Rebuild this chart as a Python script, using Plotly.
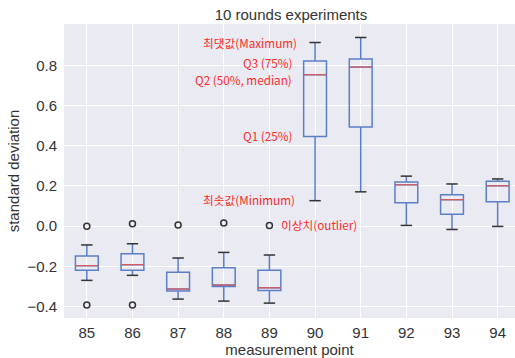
import plotly.graph_objects as go

points = ["85", "86", "87", "88", "89", "90", "91", "92", "93", "94"]
positions = [1, 2, 3, 4, 5, 6, 7, 8, 9, 10]
upper_whisker = [-0.093, -0.087, -0.158, -0.130, -0.143, 0.913, 0.938, 0.249, 0.210, 0.235]
q3 = [-0.148, -0.137, -0.229, -0.206, -0.219, 0.821, 0.831, 0.220, 0.157, 0.223]
median = [-0.196, -0.191, -0.312, -0.292, -0.306, 0.753, 0.791, 0.206, 0.132, 0.201]
q1 = [-0.219, -0.219, -0.322, -0.299, -0.319, 0.446, 0.493, 0.117, 0.059, 0.122]
lower_whisker = [-0.269, -0.244, -0.362, -0.372, -0.382, 0.127, 0.171, 0.004, -0.016, -0.001]
outlier_pos = [1, 1, 2, 2, 3, 4, 5]
outlier_val = [0.0, -0.392, 0.012, -0.392, 0.006, 0.016, 0.004]

labels = ["최댓값(Maximum)", "Q3 (75%)", "Q2 (50%, median)", "Q1 (25%)", "최솟값(Minimum)"]
label_x = [5.64, 5.54, 5.54, 5.54, 5.61]
label_y = [0.913, 0.816, 0.728, 0.45, 0.135]
outlier_label = "이상치(outlier)"

BOX_W = 0.5
CAP_W = 0.25
BLUE = "#5B7FC7"
RED = "#E05A5A"

fig = go.Figure()
fig.add_trace(go.Box(
    x=positions, q1=q1, median=median, q3=q3,
    lowerfence=lower_whisker, upperfence=upper_whisker,
    width=BOX_W, whiskerwidth=0,
    fillcolor="rgba(0,0,0,0)", line=dict(color=BLUE, width=1.5),
    boxpoints=False, hoverinfo="skip", showlegend=False,
))

# medians in red
mx, my = [], []
for p, m in zip(positions, median):
    mx += [p - BOX_W / 2, p + BOX_W / 2, None]
    my += [m, m, None]
fig.add_trace(go.Scatter(x=mx, y=my, mode="lines", line=dict(color=RED, width=1.2),
                         showlegend=False, hoverinfo="skip"))

# caps in dark
cx, cy = [], []
for p, lo, hi in zip(positions, lower_whisker, upper_whisker):
    cx += [p - CAP_W / 2, p + CAP_W / 2, None, p - CAP_W / 2, p + CAP_W / 2, None]
    cy += [lo, lo, None, hi, hi, None]
fig.add_trace(go.Scatter(x=cx, y=cy, mode="lines", line=dict(color="#333333", width=1.5),
                         showlegend=False, hoverinfo="skip"))

fig.add_trace(go.Scatter(x=outlier_pos, y=outlier_val, mode="markers",
                         marker=dict(symbol="circle-open", size=6, color="#333333",
                                     line=dict(width=1.5, color="#333333")),
                         showlegend=False, hoverinfo="skip"))

ann_font = dict(family="Noto Sans CJK KR", size=11.7, color="#FF2A2A")
for t, x, y in zip(labels, label_x, label_y):
    fig.add_annotation(x=x, y=y, text=t, showarrow=False, xanchor="right", yanchor="middle",
                       font=ann_font)
fig.add_annotation(x=5.2, y=0.007, text=outlier_label, showarrow=False, xanchor="left",
                   yanchor="middle", font=ann_font)

fig.update_layout(
    width=515, height=358,
    margin=dict(l=64, r=0, t=24, b=40),
    paper_bgcolor="white", plot_bgcolor="#EAEAF2",
    font=dict(family="Liberation Sans, Arial", size=15, color="#333333"),
    title=dict(text="10 rounds experiments", x=0.565, xanchor="center", y=0.96, yanchor="middle",
               font=dict(size=15, color="#333333")),
    xaxis=dict(range=[0.5, 10.38], tickvals=positions, ticktext=points,
               showgrid=True, gridcolor="white", gridwidth=1, zeroline=False,
               showline=False, ticks="", ticklabelstandoff=4,
               title=dict(text="measurement point", standoff=2, font=dict(size=15))),
    yaxis=dict(range=[-0.456, 1.005], tickvals=[-0.4, -0.2, 0.0, 0.2, 0.4, 0.6, 0.8],
               tickformat=".1f", showgrid=True, gridcolor="white", gridwidth=1.2,
               zeroline=False, showline=False, ticks="", ticklabelstandoff=6,
               title=dict(text="standard deviation", standoff=4, font=dict(size=15))),
)

fig.write_html("out.html")
